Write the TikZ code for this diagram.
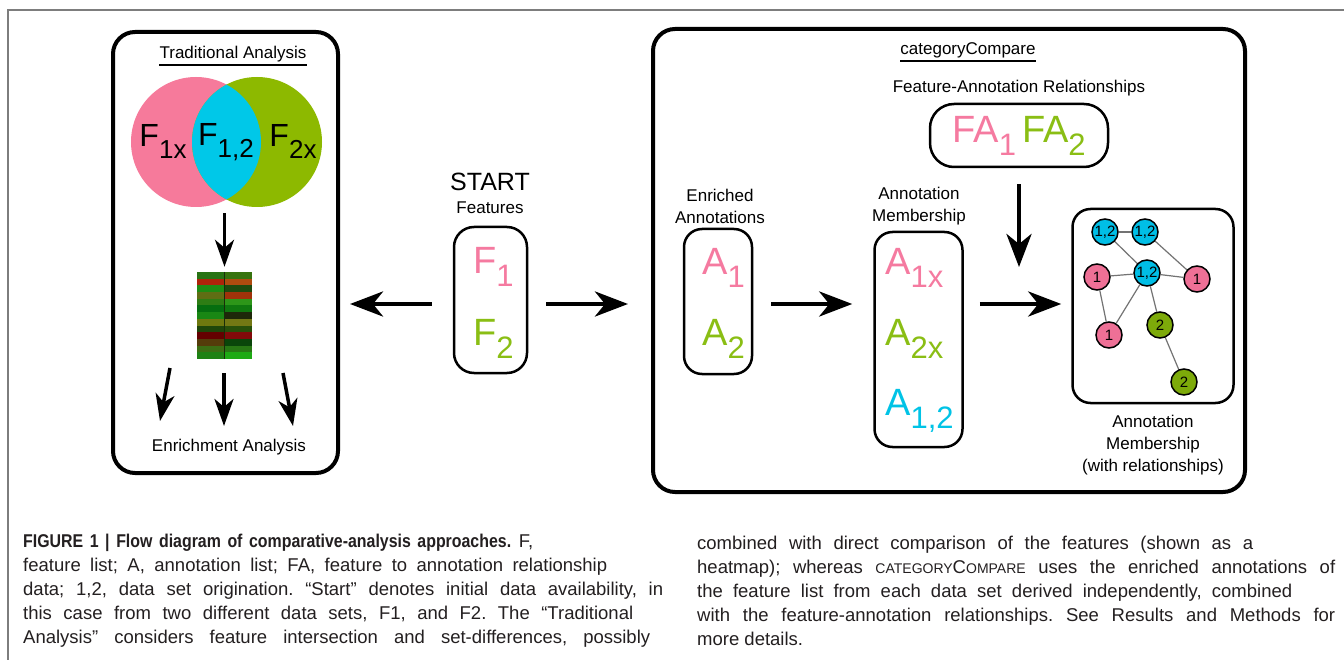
\documentclass[tikz,border=0pt]{standalone}
\usepackage{fontspec}
\setmainfont{Liberation Sans}
\newfontfamily\capfont{Liberation Sans}
\newfontfamily\capbfont{Liberation Sans}[FakeStretch=0.86]
\usetikzlibrary{arrows.meta,backgrounds}
\pgfdeclarelayer{bg}
\pgfsetlayers{bg,background,main}
\definecolor{vpink}{RGB}{246,122,155}
\definecolor{vcyan}{RGB}{0,200,232}
\definecolor{vgreen}{RGB}{141,185,0}
\definecolor{tpink}{RGB}{245,122,160}
\definecolor{tgreen}{RGB}{138,190,20}
\definecolor{tcyan}{RGB}{0,195,230}
\definecolor{npink}{RGB}{238,112,150}
\definecolor{ncyan}{RGB}{0,190,230}
\definecolor{ngreen}{RGB}{125,170,10}
\definecolor{framegray}{RGB}{125,125,125}
\definecolor{captxt}{RGB}{35,31,32}
\definecolor{hdiv}{RGB}{25,45,10}
\newcommand\fsz[1]{\fontsize{#1}{#1}\selectfont}
\newcommand\bigsub[5]{{\fsz{#1}#3\raisebox{-#5pt}{\fsz{#2}#4}}}
\newcommand\capline[4]{\node[capl] (#1) at (#2) {\makebox[#3pt][s]{#4}};}
\frenchspacing
\tikzset{
  bigbox/.style={draw, line width=4pt, rounded corners=22pt, inner sep=0},
  smallbox/.style={draw, line width=2.5pt, rounded corners=18pt, inner sep=0},
  harr/.style={line width=4.5pt, -{Stealth[length=33pt,width=25pt,inset=10pt]}},
  varr/.style={line width=3.5pt, -{Stealth[length=27pt,width=19pt,inset=8pt]}},
  lbl/.style={font=\fsz{17}, inner sep=0},
  mlbl/.style={font=\fontsize{17}{22}\selectfont, inner sep=0, align=center},
  netnode/.style={circle, draw, line width=1.5pt, minimum size=26pt, inner sep=0, font=\fsz{15}},
  netedge/.style={draw=black!55, line width=1.2pt},
  capl/.style={anchor=base west, inner sep=0, font=\capfont\fsz{18.5}, text=captxt},
  biglet/.style={anchor=base west, inner sep=0},
}
\begin{document}
\begin{tikzpicture}[x=1pt,y=-1pt]
\useasboundingbox (0,0) rectangle (1344,660);
\begin{pgfonlayer}{bg}
\fill[white] (0,0) rectangle (1344,660);
\end{pgfonlayer}
% outer frame
\draw[framegray, line width=1.5pt] (8,662) -- (8,10) -- (1346,10);

% ---------- Traditional analysis ----------
\node[bigbox, minimum width=225pt, minimum height=441pt] (trad) at (225.5,252.5) {};
\node[lbl, anchor=base] (tradt) at (233,59) {Traditional Analysis};
\draw[line width=1.6pt] ([yshift=-6pt]tradt.base west) -- ([yshift=-6pt]tradt.base east);

\node[circle, fill=vpink, minimum size=130pt, inner sep=0] (c1) at (196,142) {};
\node[circle, fill=vgreen, minimum size=130pt, inner sep=0] (c2) at (257,142) {};
\begin{scope}
  \clip (196,142) circle (65pt);
  \fill[vcyan] (257,142) circle (65pt);
\end{scope}
\node[biglet, anchor=base] (f1x) at (163,147) {\bigsub{32}{26}{F}{1x}{12}};
\node[biglet, anchor=base] (f12) at (226,146) {\bigsub{32}{26}{F}{1,2}{12}};
\node[biglet, anchor=base] (f2x) at (293,147) {\bigsub{32}{26}{F}{2x}{12}};

% heatmap
\node[minimum width=55pt, minimum height=87pt, inner sep=0] (heat) at (224.5,315.5) {};
\foreach \k/\lr/\lg/\lb/\rr/\rg/\rb in {
 0/40/115/20/55/115/15, 1/175/35/10/175/75/15, 2/30/140/20/30/75/15,
 3/95/110/20/160/50/10, 4/45/125/20/45/150/25, 5/5/110/15/15/120/15,
 6/25/135/20/30/40/10, 7/110/120/15/115/120/20, 8/30/70/10/40/80/10,
 9/100/0/0/130/10/10, 10/85/60/10/10/70/10, 11/60/110/20/40/120/20,
 12/30/130/20/30/170/20}{
  \definecolor{hl}{RGB}{\lr,\lg,\lb}
  \definecolor{hr}{RGB}{\rr,\rg,\rb}
  \fill[hl] (197,272+\k*6.7) rectangle (225,272+\k*6.7+6.75);
  \fill[hr] (225,272+\k*6.7) rectangle (252,272+\k*6.7+6.75);
}
\draw[line width=1.3pt, hdiv] (heat.north) -- (heat.south);
\draw[varr, shorten <=6pt, shorten >=5pt] (heat.north |- c1.south) -- (heat.north);

\node[lbl] (enr) at (229,447) {Enrichment Analysis};
\coordinate (e1a) at (170,368); \coordinate (e1b) at (160,421);
\coordinate (e2a) at (224,373); \coordinate (e2b) at (224,426);
\coordinate (e3a) at (283,373); \coordinate (e3b) at (293,426);
\draw[varr] (e1a) -- (e1b);
\draw[varr] (e2a) -- (e2b);
\draw[varr] (e3a) -- (e3b);

% ---------- Start ----------
\node[lbl, font=\fsz{25}] (start) at (490,182) {START};
\node[lbl] (feat) at (490,208) {Features};
\node[smallbox, rounded corners=20pt, minimum width=73pt, minimum height=146pt] (fbox) at (490.5,300) {};
\node[biglet, text=tpink] (fa) at (473,274) {\bigsub{38}{31}{F}{1}{13}};
\node[biglet, text=tgreen] (fb) at (473,345) {\bigsub{38}{31}{F}{2}{13}};
\coordinate (axis) at (0,304);
\draw[harr, shorten <=21pt, shorten >=10pt] (fbox.west |- axis) -- (trad.east |- axis);

% ---------- categoryCompare ----------
\node[bigbox, minimum width=592pt, minimum height=463pt] (cc) at (949,260.5) {};
\draw[harr, shorten <=18pt, shorten >=23pt] (fbox.east |- axis) -- (cc.west |- axis);
\node[lbl, anchor=base] (cct) at (968,55) {categoryCompare};
\draw[line width=1.6pt] ([yshift=-6pt]cct.base west) -- ([yshift=-6pt]cct.base east);

\node[lbl, anchor=base] (farl) at (1019,93) {Feature-Annotation Relationships};
\node[smallbox, rounded corners=24pt, minimum width=178pt, minimum height=63pt] (fabox) at (1019,135.5) {};
\node[inner sep=0, anchor=base] (fat) at (1019,143) {\textcolor{tpink}{\bigsub{38}{31}{FA}{1}{13}}\hspace{6pt}\textcolor{tgreen}{\bigsub{38}{31}{FA}{2}{13}}};
\coordinate (fatip) at (1019,267);
\draw[harr, shorten <=16pt] (fabox.south) -- (fatip);

\node[mlbl] (enrl) at (720,206) {Enriched\\Annotations};
\node[smallbox, minimum width=68pt, minimum height=145pt] (abox1) at (718,301.5) {};
\node[biglet, text=tpink] (a1) at (702,275) {\bigsub{38}{31}{A}{1}{13}};
\node[biglet, text=tgreen] (a2) at (702,345) {\bigsub{38}{31}{A}{2}{13}};

\node[mlbl] (meml) at (919,206) {Annotation\\Membership};
\node[smallbox, minimum width=88pt, minimum height=215pt] (abox2) at (918.5,339.5) {};
\node[biglet, text=tpink] (a1x) at (885,275) {\bigsub{38}{31}{A}{1x}{13}};
\node[biglet, text=tgreen] (a2x) at (885,345) {\bigsub{38}{31}{A}{2x}{13}};
\node[biglet, text=tcyan] (a12) at (885,415) {\bigsub{38}{31}{A}{1,2}{13}};

\draw[harr, shorten <=18pt, shorten >=21pt] (abox1.east |- axis) -- (abox2.west |- axis);

\node[smallbox, minimum width=161pt, minimum height=194pt] (net) at (1153,306) {};
\draw[harr, shorten <=16pt, shorten >=10pt] (abox2.east |- axis) -- (net.west |- axis);

\node[netnode, fill=ncyan] (n1) at (1105,232) {1,2};
\node[netnode, fill=ncyan] (n2) at (1145,232) {1,2};
\node[netnode, fill=ncyan] (n3) at (1147,273) {1,2};
\node[netnode, fill=npink] (n4) at (1097,277) {1};
\node[netnode, fill=npink] (n5) at (1197,279) {1};
\node[netnode, fill=npink] (n6) at (1109,335) {1};
\node[netnode, fill=ngreen] (n7) at (1160,325) {2};
\node[netnode, fill=ngreen] (n8) at (1184,382) {2};
\begin{pgfonlayer}{background}
\foreach \a/\b in {n1/n2, n1/n3, n2/n5, n4/n3, n3/n5, n4/n6, n3/n6, n3/n7, n7/n8}
  \draw[netedge] (\a) -- (\b);
\end{pgfonlayer}
\node[mlbl] (meml2) at (1153,445) {Annotation\\Membership\\(with relationships)};

% ---------- caption ----------
\capline{cl1}{23,547}{510}{{\capbfont\bfseries FIGURE 1 | Flow diagram of comparative-analysis approaches.} F,}
\capline{cl2}{23,571}{584}{feature list; A, annotation list; FA, feature to annotation relationship}
\capline{cl3}{23,595}{640}{data; 1,2, data set origination. “Start” denotes initial data availability, in}
\capline{cl4}{23,619}{610}{this case from two different data sets, F1, and F2. The “Traditional}
\capline{cl5}{23,643}{627}{Analysis” considers feature intersection and set-differences, possibly}
\capline{cr1}{697,549}{556}{combined with direct comparison of the features (shown as a}
\capline{cr2}{697,573}{638}{heatmap); whereas {\fsz{14}CATEGORY}C{\fsz{14}OMPARE} uses the enriched annotations of}
\capline{cr3}{697,597}{595}{the feature list from each data set derived independently, combined}
\capline{cr4}{697,621}{638}{with the feature-annotation relationships. See Results and Methods for}
\node[capl] (cr5) at (697,645) {more details.};
\end{tikzpicture}
\end{document}
